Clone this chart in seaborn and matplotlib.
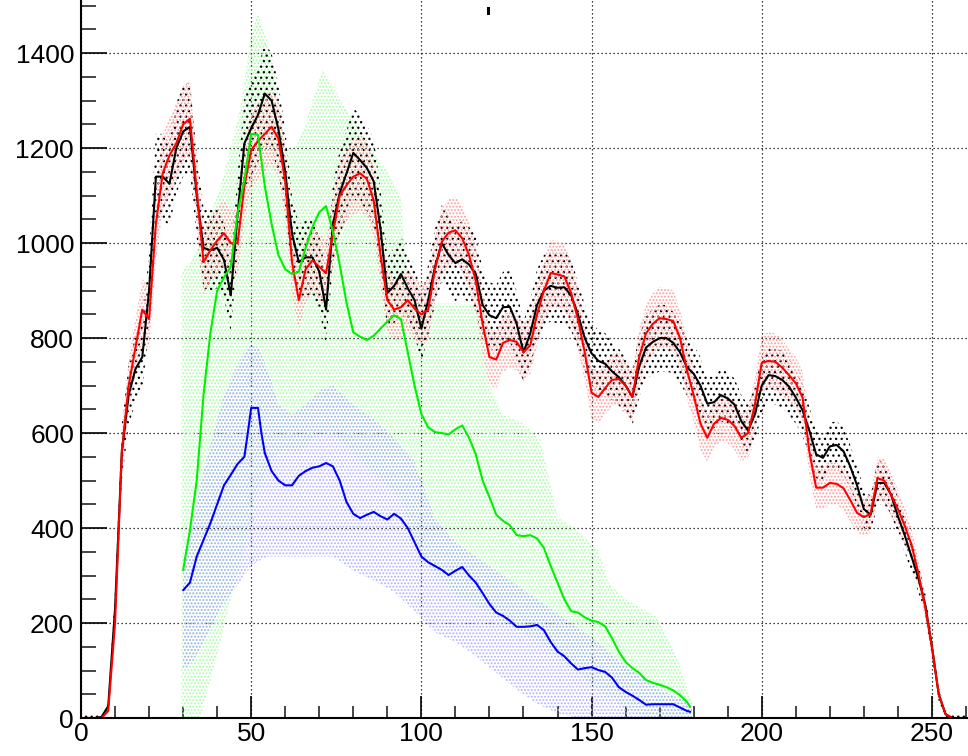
import numpy as np
import pandas as pd
import matplotlib
matplotlib.use("Agg")
import matplotlib.pyplot as plt
from matplotlib.patches import Rectangle
from matplotlib.ticker import MultipleLocator
import seaborn as sns

# ---------------------------------------------------------------- data
# black and red curves share a 2-unit grid from 0 to 260
grid_x = list(range(0, 261, 2))

black_y = [0, 0, 0, 2, 25, 230, 560, 680, 735, 760,
           900, 1140, 1140, 1125, 1200, 1235, 1245, 1100, 990, 985,
           990, 965, 890, 1060, 1210, 1242, 1270, 1315, 1300, 1240,
           1150, 1020, 960, 970, 970, 940, 860, 1040, 1105, 1147,
           1190, 1175, 1158, 1130, 1030, 895, 910, 935, 905, 880,
           820, 880, 950, 1000, 975, 958, 966, 955, 935, 870,
           848, 842, 865, 866, 830, 770, 810, 870, 900, 910,
           906, 907, 890, 850, 800, 768, 752, 746, 730, 718,
           700, 676, 740, 780, 792, 800, 800, 790, 770, 739,
           725, 700, 662, 665, 680, 673, 660, 625, 605, 640,
           700, 722, 720, 712, 698, 675, 648, 605, 555, 548,
           572, 575, 562, 530, 490, 440, 428, 495, 495, 470,
           425, 385, 340, 295, 240, 150, 50, 8, 0, 0, 0]

black_err = [8, 8, 8, 8, 15, 40, 60, 65, 70, 70,
             80, 90, 90, 90, 95, 95, 95, 90, 85, 85,
             85, 80, 75, 85, 95, 100, 100, 105, 100, 95,
             90, 80, 80, 80, 80, 80, 75, 85, 90, 90,
             95, 95, 90, 90, 85, 75, 80, 80, 75, 75,
             70, 75, 80, 80, 80, 80, 80, 80, 80, 75,
             70, 70, 75, 75, 70, 65, 70, 75, 75, 75,
             75, 75, 75, 70, 70, 65, 65, 65, 60, 60,
             60, 60, 65, 65, 70, 70, 70, 65, 65, 60,
             60, 60, 55, 55, 55, 55, 55, 55, 55, 60,
             60, 60, 60, 60, 60, 55, 55, 50, 50, 50,
             50, 50, 50, 45, 45, 40, 40, 45, 45, 40,
             40, 35, 35, 30, 25, 20, 15, 10, 8, 8, 8]

red_y = [0, 0, 0, 0, 15, 200, 560, 700, 780, 860,
         840, 1040, 1147, 1185, 1210, 1250, 1262, 1110, 960, 985,
         1005, 1021, 1000, 1000, 1120, 1196, 1215, 1230, 1245, 1220,
         1130, 960, 880, 945, 964, 950, 937, 1020, 1100, 1122,
         1140, 1147, 1135, 1090, 975, 880, 860, 865, 880, 862,
         850, 860, 945, 1003, 1022, 1027, 1010, 975, 920, 830,
         760, 755, 790, 796, 792, 770, 785, 850, 900, 937,
         934, 930, 895, 840, 770, 685, 676, 695, 712, 714,
         700, 676, 760, 810, 830, 842, 840, 836, 800, 733,
         680, 620, 590, 620, 632, 628, 615, 590, 600, 660,
         748, 752, 750, 738, 722, 705, 675, 560, 485, 485,
         495, 493, 484, 459, 432, 423, 430, 505, 500, 470,
         440, 405, 365, 305, 235, 150, 50, 8, 0, 0, 0]

red_err = [0, 0, 0, 0, 10, 35, 50, 55, 60, 65,
           65, 75, 80, 80, 80, 80, 80, 75, 70, 70,
           70, 70, 70, 70, 75, 80, 80, 80, 80, 80,
           75, 70, 65, 70, 70, 70, 70, 75, 75, 75,
           80, 80, 80, 75, 70, 65, 65, 65, 65, 65,
           65, 65, 70, 70, 70, 70, 70, 70, 70, 65,
           60, 60, 60, 60, 60, 60, 60, 65, 65, 70,
           70, 70, 65, 65, 60, 55, 55, 55, 55, 55,
           55, 55, 60, 60, 65, 65, 65, 65, 60, 60,
           55, 55, 50, 50, 50, 50, 50, 50, 50, 55,
           60, 60, 60, 60, 55, 55, 55, 50, 45, 45,
           45, 45, 45, 45, 40, 40, 40, 45, 45, 45,
           40, 40, 35, 30, 25, 20, 10, 5, 0, 0, 0]

green_x = [30, 32, 34, 36, 38, 40, 42, 44, 46, 48,
           50, 52, 54, 56, 58, 60, 62, 64, 66, 68,
           70, 72, 74, 76, 78, 80, 82, 84, 86, 88,
           90, 92, 94, 96, 98, 100, 102, 104, 106, 108,
           110, 112, 114, 116, 118, 120, 122, 124, 126, 128,
           130, 132, 134, 136, 138, 140, 142, 144, 146, 148,
           150, 152, 154, 156, 158, 160, 162, 164, 166, 168,
           170, 172, 174, 176, 178, 179]
green_y = [311, 395, 500, 680, 810, 900, 928, 950, 1063, 1133,
           1230, 1228, 1120, 1040, 975, 945, 935, 940, 990, 1034,
           1065, 1078, 1025, 955, 875, 812, 803, 796, 805, 820,
           835, 848, 840, 770, 700, 640, 612, 602, 600, 597,
           608, 616, 590, 555, 500, 465, 428, 415, 406, 385,
           383, 385, 378, 358, 320, 285, 250, 225, 222, 212,
           205, 202, 193, 168, 140, 118, 105, 95, 80, 74,
           70, 65, 58, 48, 34, 23]

blue_x = [30, 32, 34, 36, 38, 40, 42, 44, 46, 48,
          49, 50, 52, 53, 54, 56, 58, 60, 62, 64,
          66, 68, 70, 72, 74, 76, 78, 80, 82, 84,
          86, 88, 90, 92, 94, 96, 98, 100, 102, 104,
          106, 108, 110, 112, 114, 116, 118, 120, 122, 124,
          126, 128, 130, 132, 134, 136, 138, 140, 142, 144,
          146, 148, 150, 152, 154, 156, 158, 160, 162, 164,
          166, 168, 170, 172, 174, 176, 178, 179]
blue_y = [269, 285, 340, 375, 410, 450, 490, 512, 535, 550,
          600, 653, 653, 600, 558, 520, 500, 490, 490, 510,
          520, 527, 530, 537, 530, 500, 455, 430, 421, 428,
          434, 425, 418, 430, 420, 400, 370, 340, 328, 320,
          312, 301, 310, 318, 300, 285, 263, 240, 222, 215,
          205, 192, 192, 193, 196, 185, 160, 140, 130, 115,
          102, 105, 107, 101, 97, 85, 65, 55, 47, 38,
          28, 29, 29, 29, 29, 22, 15, 13]

green_band_x = [29.5, 32, 35, 38, 41, 44, 47, 50, 52, 54,
                56, 58, 60, 63, 66, 68, 71, 74, 77, 80,
                85, 90, 94, 96, 100, 105, 110, 117, 120, 124,
                130, 135, 140, 145, 152, 155, 160, 165, 169, 172.5,
                176, 179.5]
green_band_hi = [940, 960, 1000, 1060, 1120, 1200, 1290, 1440, 1484, 1440,
                 1400, 1300, 1195, 1200, 1250, 1300, 1368, 1330, 1290, 1260,
                 1200, 1150, 1100, 900, 873, 873, 873, 870, 700, 640,
                 620, 585, 423, 400, 354, 284, 250, 230, 213, 170,
                 110, 30]
green_band_lo = [0, 0, 0, 80, 160, 250, 330, 420, 480, 520,
                 540, 560, 560, 560, 570, 590, 600, 600, 580, 560,
                 520, 490, 460, 420, 340, 300, 260, 230, 220, 200,
                 180, 160, 130, 100, 60, 45, 20, 5, 0, 0,
                 0, 0]

blue_band_x = [30, 33, 36, 39, 42, 45, 48, 50, 52, 55,
               58, 62, 66, 70, 74, 80, 86, 92, 98, 104,
               110, 116, 122, 128, 134, 140, 146, 152, 158, 164,
               170, 176, 179.5]
blue_band_hi = [330, 420, 520, 600, 680, 730, 770, 785, 780, 730,
                660, 640, 660, 690, 700, 660, 630, 590, 540, 420,
                370, 340, 310, 280, 250, 220, 190, 160, 120, 90,
                60, 40, 30]
blue_band_lo = [100, 120, 160, 200, 240, 270, 300, 320, 330, 340,
                340, 340, 340, 340, 340, 310, 290, 265, 225, 180,
                160, 130, 95, 60, 30, 10, 0, 0, 0, 0,
                0, 0, 0]

x_major = [0, 50, 100, 150, 200, 250]
y_major = [0, 200, 400, 600, 800, 1000, 1200, 1400]

# ---------------------------------------------------------------- style
sns.set_style("ticks")
plt.rcParams["font.family"] = ["Liberation Sans", "DejaVu Sans"]
plt.rcParams["hatch.linewidth"] = 0.9

fig = plt.figure(figsize=(9.68, 7.56), dpi=100)
W, H = 968, 756
ax = fig.add_axes([81 / W, 38 / H, (W - 81) / W, 718 / H])
ax.set_xlim(0, 260.6)
ax.set_ylim(0, 1512)

# dotted grid at the major ticks
for xv in x_major:
    ax.axvline(xv, color="black", lw=0.9, ls=(0, (1, 2.2)), zorder=0.5)
for yv in y_major:
    ax.axhline(yv, color="black", lw=0.9, ls=(0, (1, 2.2)), zorder=0.5)

# uncertainty bands drawn as dotted hatching
bx = np.array(grid_x, dtype=float)
by, be = np.array(black_y, float), np.array(black_err, float)
ry, re = np.array(red_y, float), np.array(red_err, float)

ax.fill_between(green_band_x, green_band_lo, green_band_hi, facecolor="none",
                edgecolor="#a3ffa3", hatch=".....", linewidth=0, zorder=1)
ax.fill_between(blue_band_x, blue_band_lo, blue_band_hi, facecolor="none",
                edgecolor="#adadff", hatch=".....", linewidth=0, zorder=1.1)
ax.fill_between(bx, np.clip(by - be, 0, None), by + be, facecolor="none",
                edgecolor="black", hatch="...", linewidth=0, zorder=1.2)
ax.fill_between(bx, np.clip(ry - re, 0, None), ry + re, facecolor="none",
                edgecolor="#ff9a9a", hatch=".....", linewidth=0, zorder=1.3)

# central curves
curves = [
    (grid_x, black_y, "black"),
    (grid_x, red_y, "#ff0000"),
    (green_x, green_y, "#00f000"),
    (blue_x, blue_y, "#0000ff"),
]
for i, (xs, ys, col) in enumerate(curves):
    df = pd.DataFrame({"x": xs, "y": ys})
    sns.lineplot(data=df, x="x", y="y", color=col, linewidth=1.5,
                 estimator=None, sort=False, ax=ax, zorder=3 + i)

# axes in the ROOT look: ticks inside, only left and bottom axes
for side in ("top", "right"):
    ax.spines[side].set_visible(False)
for side in ("left", "bottom"):
    ax.spines[side].set_linewidth(1.5)
    ax.spines[side].set_color("black")
    ax.spines[side].set_zorder(10)

ax.xaxis.set_major_locator(MultipleLocator(50))
ax.xaxis.set_minor_locator(MultipleLocator(10))
ax.yaxis.set_major_locator(MultipleLocator(200))
ax.yaxis.set_minor_locator(MultipleLocator(50))
ax.tick_params(axis="x", which="major", direction="in", length=16, width=1.2,
               pad=3, labelsize=19, colors="black")
ax.tick_params(axis="x", which="minor", direction="in", length=8.5, width=1.2)
ax.tick_params(axis="y", which="major", direction="in", length=19, width=1.2,
               pad=5, labelsize=19, colors="black")
ax.tick_params(axis="y", which="minor", direction="in", length=11, width=1.2)
ax.set_xlabel("")
ax.set_ylabel("")
ax.grid(False)

# small mark at the top edge of the pad
fig.add_artist(Rectangle((487 / W, 1 - 15 / H), 3 / W, 8 / H,
                         transform=fig.transFigure, color="black", lw=0))

fig.savefig("out.png", dpi=100)
